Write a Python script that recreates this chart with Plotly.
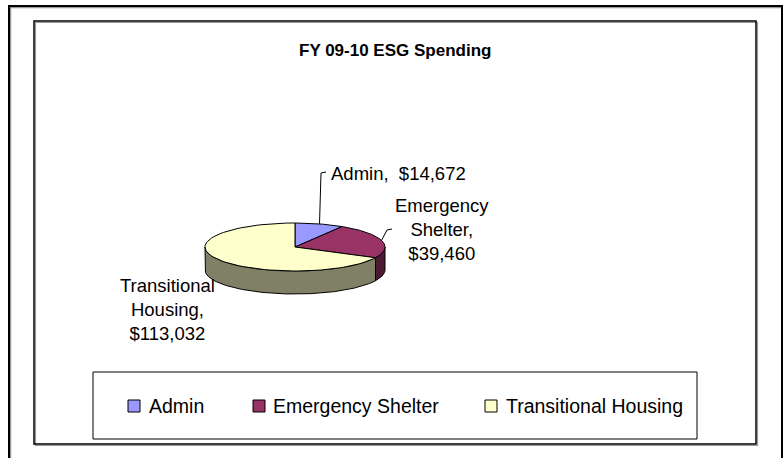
import numpy as np
import plotly.graph_objects as go

# ---- data ----
categories = ["Admin", "Emergency Shelter", "Transitional Housing"]
values = [14672, 39460, 113032]
data_labels = ["Admin,  $14,672", "Emergency<br>Shelter,<br>$39,460", "Transitional<br>Housing,<br>$113,032"]
title_text = "FY 09-10 ESG Spending"

# ---- style ----
top_colors = ["#9999FF", "#993366", "#FFFFCC"]
side_colors = ["#4D4D80", "#4D1A33", "#808066"]
FONT = "Liberation Sans, Arial, sans-serif"
W, H = 783, 458
cx, cy, rx, ry, depth = 295, 247, 90, 24, 23

total = float(sum(values))
fracs = np.array(values) / total
starts = 90 - 360 * np.concatenate([[0], np.cumsum(fracs)[:-1]])
ends = starts - 360 * fracs


def arc(a, b, dy=0.0, n=80):
    t = np.radians(np.linspace(a, b, n))
    return cx + rx * np.cos(t), cy - ry * np.sin(t) + dy


fig = go.Figure()

# sides (front half only)
for i in range(len(values)):
    lo, hi = ends[i], starts[i]
    for k in (-1, 0, 1):
        f0, f1 = -180 + 360 * k, 0 + 360 * k
        a, b = max(lo, f0), min(hi, f1)
        if b > a:
            xt, yt = arc(b, a)
            xb, yb = arc(a, b, depth)
            xs = np.concatenate([xt, xb, xt[:1]])
            ys = np.concatenate([yt, yb, yt[:1]])
            fig.add_trace(go.Scatter(x=xs, y=ys, mode="lines", fill="toself",
                                     fillcolor=side_colors[i],
                                     line=dict(color="black", width=1),
                                     hoverinfo="skip", showlegend=False))

# top faces
for i in range(len(values)):
    xa, ya = arc(starts[i], ends[i])
    xs = np.concatenate([[cx], xa, [cx]])
    ys = np.concatenate([[cy], ya, [cy]])
    fig.add_trace(go.Scatter(x=xs, y=ys, mode="lines", fill="toself",
                             fillcolor=top_colors[i],
                             line=dict(color="black", width=1),
                             name=categories[i], hoverinfo="skip", showlegend=False))

# leader lines from slice mid-angle to label
mids = (starts + ends) / 2
leader_targets = {0: [(321, 173), (326, 172)], 1: [(387, 230), (392, 229)]}
for i, pts in leader_targets.items():
    x0, y0 = arc(mids[i], mids[i], n=1)
    xs = [x0[0]] + [p[0] for p in pts]
    ys = [y0[0]] + [p[1] for p in pts]
    fig.add_trace(go.Scatter(x=xs, y=ys, mode="lines",
                             line=dict(color="black", width=1),
                             hoverinfo="skip", showlegend=False))

# data labels
label_pos = [(329, 173, "left"), (442, 229, "center"), (167, 309, "center")]
for i, (lx, ly, al) in enumerate(label_pos):
    fig.add_annotation(x=lx, y=ly, text=data_labels[i], showarrow=False,
                       xanchor=al, yanchor="middle", align="center",
                       font=dict(family=FONT, size=18.5, color="black"))

# title
fig.add_annotation(x=395, y=50, text="<b>" + title_text + "</b>", showarrow=False,
                   xanchor="center", yanchor="middle",
                   font=dict(family=FONT, size=17, color="black"))

shapes = [
    dict(type="rect", x0=10.5, y0=7.5, x1=783.5, y1=476, line=dict(color="#999999", width=1.5)),
    dict(type="rect", x0=9, y0=6, x1=782, y1=475, line=dict(color="black", width=2)),
    dict(type="rect", x0=35.5, y0=22.5, x1=757.5, y1=445.5, line=dict(color="#999999", width=1.2)),
    dict(type="rect", x0=34, y0=21, x1=756, y1=444, line=dict(color="black", width=1.5)),
    dict(type="rect", x0=93, y0=372, x1=697, y1=439, line=dict(color="black", width=1)),
]

# manual legend
sw_x = [128, 253, 485]
tx_x = [147, 271, 504]
for i in range(len(categories)):
    shapes.append(dict(type="rect", x0=sw_x[i], y0=400, x1=sw_x[i] + 12, y1=412,
                       fillcolor=top_colors[i], line=dict(color="black", width=1)))
    fig.add_annotation(x=tx_x[i], y=406, text=categories[i], showarrow=False,
                       xanchor="left", yanchor="middle",
                       font=dict(family=FONT, size=19.5, color="black"))

fig.update_layout(
    width=W, height=H, margin=dict(l=0, r=0, t=0, b=0),
    paper_bgcolor="white", plot_bgcolor="white",
    xaxis=dict(range=[0, W], visible=False, fixedrange=True),
    yaxis=dict(range=[H, 0], visible=False, fixedrange=True),
    shapes=shapes, showlegend=False,
)

fig.write_html("out.html")
